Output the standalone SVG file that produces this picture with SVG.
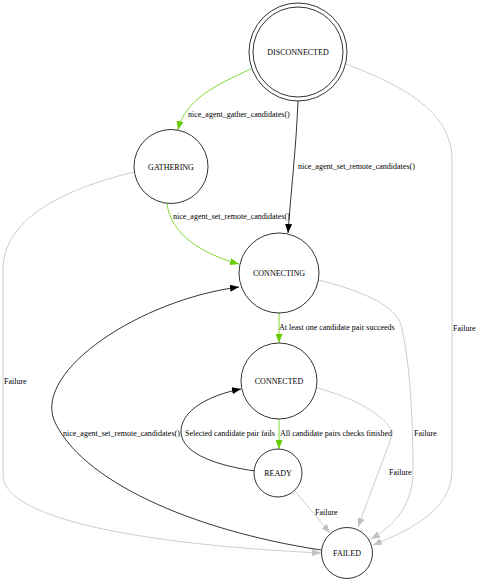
<svg xmlns="http://www.w3.org/2000/svg" width="478" height="581" viewBox="0 0 478 581">
<style>
text{font-family:"Liberation Serif","Times New Roman",serif;font-size:8px;fill:#000}
.n{fill:#fff;stroke:#000;stroke-width:0.8}
.c{text-anchor:middle}
.e{fill:none;stroke-width:0.8}
.g{stroke:#66cd00}
.k{stroke:#000}
.l{stroke:#c0c0c0}
</style>
<defs>
<marker id="ag" markerWidth="9" markerHeight="7" refX="9" refY="3.5" orient="auto" markerUnits="userSpaceOnUse"><path d="M0,0L9,3.5L0,7z" fill="#66cd00"/></marker>
<marker id="ak" markerWidth="9" markerHeight="7" refX="9" refY="3.5" orient="auto" markerUnits="userSpaceOnUse"><path d="M0,0L9,3.5L0,7z" fill="#000"/></marker>
<marker id="al" markerWidth="9" markerHeight="7" refX="9" refY="3.5" orient="auto" markerUnits="userSpaceOnUse"><path d="M0,0L9,3.5L0,7z" fill="#c0c0c0"/></marker>
</defs>
<rect width="478" height="581" fill="#fff"/>
<g id="connectors">
<path class="e g" d="M251,69 C215,85 185,100 178,130" marker-end="url(#ag)"/>
<path class="e k" d="M298,101 C296,150 291,190 288,233" marker-end="url(#ak)"/>
<path class="e l" d="M346,64 C400,85 452,110 452,160 L452,470 C452,510 410,530 373,545" marker-end="url(#al)"/>
<path class="e g" d="M167,203 C170,235 205,255 239,264" marker-end="url(#ag)"/>
<path class="e l" d="M134,172 C60,190 3,220 3,270 L3,475 C3,520 150,545 321,553" marker-end="url(#al)"/>
<path class="e g" d="M279,313 L279,343" marker-end="url(#ag)"/>
<path class="e l" d="M318,280 C360,290 395,305 401,325 C410,360 413,420 413,470 C413,505 395,525 371,539" marker-end="url(#al)"/>
<path class="e l" d="M317,388 C355,398 385,415 393,433 L358,527" marker-end="url(#al)"/>
<path class="e g" d="M279,419 L279,449" marker-end="url(#ag)"/>
<path class="e k" d="M255,471 C220,466 183,455 181,433 C180,410 210,395 241,389" marker-end="url(#ak)"/>
<path class="e l" d="M295,491 L330,533" marker-end="url(#al)"/>
<path class="e k" d="M321,550 C190,530 80,480 54,420 C35,370 140,300 239,287" marker-end="url(#ak)"/>
<text x="188" y="117">nice_agent_gather_candidates()</text>
<text x="298" y="169">nice_agent_set_remote_candidates()</text>
<text x="453" y="331">Failure</text>
<text x="173" y="219">nice_agent_set_remote_candidates()</text>
<text x="4" y="384">Failure</text>
<text x="279" y="330">At least one candidate pair succeeds</text>
<text x="414" y="436">Failure</text>
<text x="280" y="436">All candidate pairs checks finished</text>
<text x="185" y="436">Selected candidate pair fails</text>
<text x="63" y="436">nice_agent_set_remote_candidates()</text>
<text x="389" y="475">Failure</text>
<text x="315" y="515">Failure</text>
</g>
<g id="DISCONNECTED"><circle class="n" cx="298" cy="52" r="49"/><circle class="n" cx="298" cy="52" r="45"/><text class="c" x="298" y="55">DISCONNECTED</text></g>
<g id="GATHERING"><circle class="n" cx="171" cy="166.5" r="37"/><text class="c" x="171" y="169.5">GATHERING</text></g>
<g id="CONNECTING"><circle class="n" cx="279" cy="273" r="40"/><text class="c" x="279" y="276">CONNECTING</text></g>
<g id="CONNECTED"><circle class="n" cx="279" cy="381" r="38"/><text class="c" x="279" y="384">CONNECTED</text></g>
<g id="READY"><circle class="n" cx="278" cy="473" r="24"/><text class="c" x="278" y="476">READY</text></g>
<g id="FAILED"><circle class="n" cx="347" cy="553" r="25.5"/><text class="c" x="347" y="556">FAILED</text></g>
</svg>
